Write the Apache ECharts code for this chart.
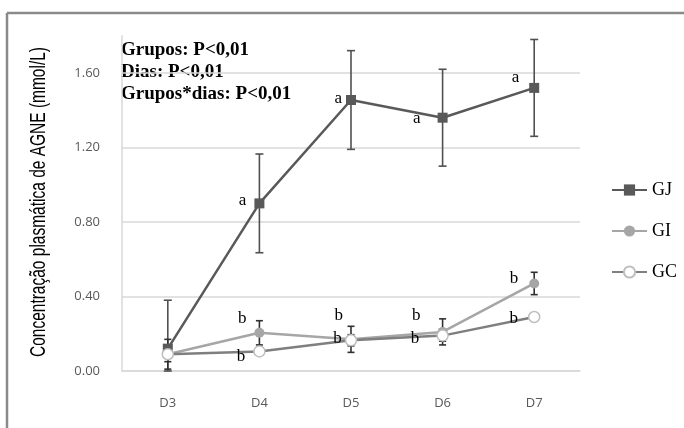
<!DOCTYPE html>
<html>
<head>
<meta charset="utf-8">
<script src="https://cdn.jsdelivr.net/npm/echarts@6/dist/echarts.min.js"></script>
<style>html,body{margin:0;padding:0;background:#fff;}#c{width:684px;height:428px;}</style>
</head>
<body>
<div id="c"></div>
<script>
var categories = ['D3', 'D4', 'D5', 'D6', 'D7'];
var gj = [0.12, 0.90, 1.455, 1.36, 1.52];
var gjErr = [0.26, 0.265, 0.265, 0.26, 0.26];
var gi = [0.09, 0.205, 0.17, 0.21, 0.47];
var giErr = [0.08, 0.065, 0.07, 0.07, 0.06];
var gc = [0.09, 0.105, 0.165, 0.19, 0.29];
var gcErr = [0.04, 0.02, 0.03, 0.03, 0.02];
var gjLetters = ['', 'a', 'a', 'a', 'a'];
var giLetters = ['', 'b', 'b', 'b', 'b'];
var gcLetters = ['', 'b', 'b', 'b', 'b'];
var statsLines = ['Grupos: P<0,01', 'Dias: P<0,01', 'Grupos*dias: P<0,01'];
var yTitle = 'Concentração plasmática de AGNE (mmol/L)';

// label placement (style only)
var gjOff = [[0,0],[-4,-3],[0,-1],[-13,1],[-6,-10]];
var giOff = [[0,0],[-4,-14],[1,-24],[-13,-16],[-7,-5]];
var gcOff = [[0,0],[-4,5],[1,-2],[-13,3],[-6,2]];

function withLabels(vals, letters, offs) {
  return vals.map(function (v, i) {
    return {
      value: v,
      label: { show: !!letters[i], formatter: letters[i], offset: offs[i] }
    };
  });
}
function errData(vals, errs) {
  return vals.map(function (v, i) {
    return [i, Math.max(0, v - errs[i]), v + errs[i]];
  });
}
function errSeries(name, vals, errs, color, cap) {
  return {
    type: 'custom', name: name + '_err', z: 1,
    data: errData(vals, errs),
    renderItem: function (params, api) {
      var lo = api.coord([api.value(0), api.value(1)]);
      var hi = api.coord([api.value(0), api.value(2)]);
      var st = { stroke: color, lineWidth: 1.6 };
      return {
        type: 'group',
        children: [
          { type: 'line', shape: { x1: lo[0], y1: lo[1], x2: hi[0], y2: hi[1] }, style: st },
          { type: 'line', shape: { x1: hi[0] - cap, y1: hi[1], x2: hi[0] + cap, y2: hi[1] }, style: st },
          { type: 'line', shape: { x1: lo[0] - cap, y1: lo[1], x2: lo[0] + cap, y2: lo[1] }, style: st }
        ]
      };
    }
  };
}

// measure title to compress it like the reference
var cv = document.createElement('canvas').getContext('2d');
cv.font = '22px "Liberation Sans"';
var tw = cv.measureText(yTitle).width;
var tScale = 310 / tw;

var labelStyle = { position: 'left', distance: 4, color: '#000', fontFamily: 'Liberation Serif', fontSize: 17 };

var chart = echarts.init(document.getElementById('c'));
chart.setOption({
  animation: false,
  grid: { left: 122, right: 104, top: 35.75, bottom: 57 },
  legend: {
    orient: 'vertical', left: 606, top: 176, itemGap: 23,
    itemWidth: 35, itemHeight: 14,
    data: ['GJ', 'GI', 'GC'],
    textStyle: { fontFamily: 'Liberation Serif', fontSize: 18, color: '#000' }
  },
  xAxis: {
    type: 'category', data: categories,
    axisLine: { lineStyle: { color: '#d9d9d9', width: 1.5 } },
    axisTick: { show: false },
    axisLabel: { color: '#595959', fontFamily: 'Open Sans', fontSize: 13, margin: 26 }
  },
  yAxis: {
    type: 'value', min: 0, max: 1.8, interval: 0.4,
    axisLine: { show: true, lineStyle: { color: '#d9d9d9', width: 1.5 } },
    axisTick: { show: false },
    axisLabel: {
      color: '#595959', fontFamily: 'Open Sans', fontSize: 13, margin: 22, showMaxLabel: false,
      formatter: function (v) { return v.toFixed(2); }
    },
    splitLine: { lineStyle: { color: ['#d9d9d9', '#d9d9d9', '#d9d9d9', '#d9d9d9', '#d9d9d9', 'rgba(0,0,0,0)'], width: 1.5 } }
  },
  series: [
    errSeries('GJ', gj, gjErr, '#505050', 4),
    errSeries('GI', gi, giErr, '#303030', 3.5),
    errSeries('GC', gc, gcErr, '#303030', 3.5),
    {
      name: 'GJ', type: 'line', z: 3, data: withLabels(gj, gjLetters, gjOff),
      symbol: 'rect', symbolSize: 10,
      lineStyle: { color: '#595959', width: 2.5 },
      itemStyle: { color: '#595959' },
      label: labelStyle
    },
    {
      name: 'GI', type: 'line', z: 4, data: withLabels(gi, giLetters, giOff),
      symbol: 'circle', symbolSize: 10,
      lineStyle: { color: '#a6a6a6', width: 2.5 },
      itemStyle: { color: '#a6a6a6' },
      label: labelStyle
    },
    {
      name: 'GC', type: 'line', z: 5, data: withLabels(gc, gcLetters, gcOff),
      symbol: 'circle', symbolSize: 11,
      lineStyle: { color: '#7f7f7f', width: 2.5 },
      itemStyle: { color: '#ffffff', borderColor: '#bfbfbf', borderWidth: 1.5 },
      label: labelStyle
    }
  ],
  graphic: [
    { type: 'line', shape: { x1: 7, y1: 13, x2: 684, y2: 13 }, style: { stroke: '#8a8a8a', lineWidth: 2.5 } },
    { type: 'line', shape: { x1: 7, y1: 13, x2: 7, y2: 428 }, style: { stroke: '#8a8a8a', lineWidth: 2.5 } },
    {
      type: 'text', x: 39, y: 202, rotation: Math.PI / 2, scaleX: tScale, scaleY: 1,
      style: { text: yTitle, font: '22px "Liberation Sans"', fill: '#000', textAlign: 'center', textVerticalAlign: 'middle' }
    },
    {
      type: 'text', left: 121, top: 39,
      style: { text: statsLines.join('\n'), font: 'bold 19px "Liberation Serif"', lineHeight: 22, fill: '#000' }
    }
  ]
});
</script>
</body>
</html>
